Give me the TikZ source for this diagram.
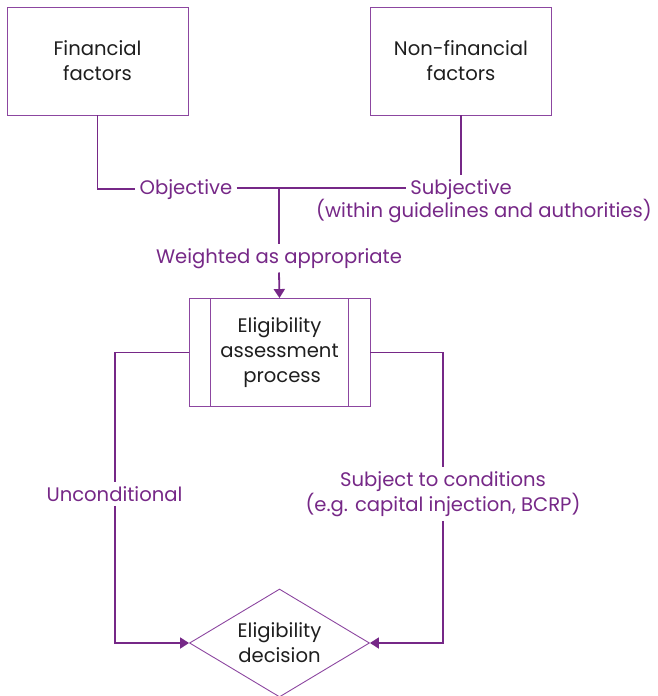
\documentclass[tikz,border=0pt]{standalone}
\usepackage{fontspec}
\setmainfont{Poppins}
\usetikzlibrary{shapes.geometric,arrows.meta}
\definecolor{plum}{RGB}{118,40,135}
\definecolor{plumlight}{RGB}{140,70,160}
\definecolor{ink}{RGB}{30,30,30}
\begin{document}
\begin{tikzpicture}[x=1pt,y=-1pt,
  txt/.style={font=\fontsize{19.6}{25}\selectfont},
  factorbox/.style={draw=plumlight,line width=0.9pt,minimum width=181pt,minimum height=108pt,
    align=center,txt,text=ink,inner sep=0pt},
  lbl/.style={txt,text=plum,inner sep=4pt,align=center},
  conn/.style={draw=plum,line width=1.8pt},
  arr/.style={conn,-{Triangle[length=9pt,width=11pt]}}
]
\useasboundingbox (0,0) rectangle (657,696);

% source boxes
\node[factorbox] (fin) at (97.5,61) {Financial\\factors};
\node[factorbox] (nonfin) at (461,61) {Non-financial\\factors};

% labels on the connectors
\node[lbl,anchor=base] (obj) at (186,194) {Objective};
\node[lbl,anchor=base] (subj) at (461,194) {Subjective};
\node[lbl,anchor=base] (subjnote) at (484,217) {(within guidelines and authorities)};
\node[lbl,anchor=base] (wgt) at (279,263) {Weighted as appropriate};
\coordinate (merge) at (279,188);

% assessment process box with side bars
\node[factorbox] (eap) at (279.5,352.5) {Eligibility\\assessment\\\ process};
\draw[plumlight,line width=0.9pt] ([xshift=22pt]eap.north west) -- ([xshift=22pt]eap.south west);
\draw[plumlight,line width=0.9pt] ([xshift=-22pt]eap.north east) -- ([xshift=-22pt]eap.south east);

% decision diamond
\node[draw=plumlight,line width=0.9pt,diamond,aspect=1.667,minimum width=180pt,minimum height=108pt,
  inner sep=0pt,align=center,txt,text=ink] (dec) at (279.5,643) {Eligibility\\decision};

% branch labels
\node[lbl] (uncond) at (114.5,494) {Unconditional};
\node[lbl] (cond) at (443,494) {Subject to conditions\\(e.g. capital injection, BCRP)};

% top connectors
\draw[conn] (fin.south) |- (obj.west);
\draw[conn] (obj.east |- merge) -- (subj.west |- merge);
\draw[conn] (nonfin.south) -- (subj.north);
\draw[conn] (merge) -- (wgt.north);
\draw[arr] (wgt.south) -- (eap.north);

% branches to the decision
\draw[conn] (eap.west) -| (uncond.north -| 115,0);
\draw[arr] (uncond.south -| 115,0) |- (dec.west);
\draw[conn] (eap.east) -| (cond.north -| 443,0);
\draw[arr] (cond.south -| 443,0) |- (dec.east);
\end{tikzpicture}
\end{document}
